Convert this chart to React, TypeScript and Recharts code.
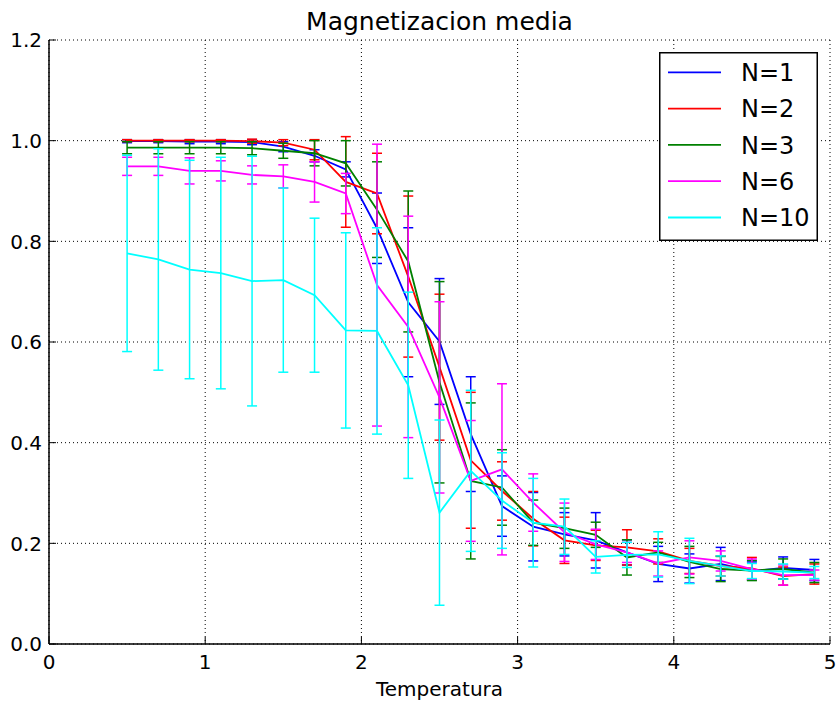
import React from 'react';
import { LineChart, Line, XAxis, YAxis, CartesianGrid, ErrorBar, Legend } from 'recharts';

const temperatures = [0.5, 0.7, 0.9, 1.1, 1.3, 1.5, 1.7, 1.9, 2.1, 2.3, 2.5, 2.7, 2.9, 3.1, 3.3, 3.5, 3.7, 3.9, 4.1, 4.3, 4.5, 4.7, 4.9];

const seriesNames = ['N=1', 'N=2', 'N=3', 'N=6', 'N=10'];
const seriesColors = ['#0000ff', '#ff0000', '#008000', '#ff00ff', '#00ffff'];

const magN1 = [0.999, 0.999, 0.998, 0.998, 0.997, 0.988, 0.970, 0.943, 0.826, 0.679, 0.601, 0.417, 0.274, 0.233, 0.218, 0.206, 0.182, 0.159, 0.150, 0.159, 0.145, 0.151, 0.147];
const errN1 = [0.003, 0.003, 0.004, 0.004, 0.005, 0.010, 0.012, 0.015, 0.070, 0.148, 0.125, 0.114, 0.060, 0.068, 0.043, 0.055, 0.025, 0.035, 0.029, 0.033, 0.018, 0.022, 0.021];

const magN2 = [1.0, 1.0, 1.0, 1.0, 0.999, 0.996, 0.982, 0.918, 0.895, 0.730, 0.550, 0.365, 0.304, 0.249, 0.206, 0.196, 0.192, 0.184, 0.165, 0.155, 0.150, 0.135, 0.139];
const errN2 = [0.002, 0.002, 0.002, 0.002, 0.004, 0.006, 0.020, 0.090, 0.080, 0.160, 0.145, 0.135, 0.058, 0.054, 0.046, 0.030, 0.035, 0.025, 0.025, 0.020, 0.022, 0.018, 0.020];

const magN3 = [0.986, 0.986, 0.986, 0.986, 0.985, 0.980, 0.975, 0.955, 0.863, 0.760, 0.520, 0.324, 0.311, 0.241, 0.230, 0.217, 0.172, 0.182, 0.163, 0.149, 0.146, 0.149, 0.142];
const errN3 = [0.012, 0.012, 0.012, 0.012, 0.013, 0.015, 0.025, 0.045, 0.095, 0.140, 0.200, 0.155, 0.075, 0.045, 0.040, 0.025, 0.035, 0.020, 0.031, 0.025, 0.020, 0.020, 0.020];

const magN6 = [0.949, 0.949, 0.940, 0.940, 0.932, 0.929, 0.918, 0.895, 0.713, 0.630, 0.490, 0.324, 0.347, 0.281, 0.222, 0.198, 0.182, 0.160, 0.172, 0.165, 0.149, 0.137, 0.137];
const errN6 = [0.018, 0.018, 0.026, 0.020, 0.018, 0.023, 0.040, 0.040, 0.280, 0.220, 0.190, 0.120, 0.170, 0.057, 0.058, 0.030, 0.020, 0.025, 0.033, 0.020, 0.020, 0.020, 0.010];

const magN10 = [0.776, 0.764, 0.744, 0.737, 0.721, 0.723, 0.693, 0.623, 0.622, 0.514, 0.261, 0.344, 0.285, 0.241, 0.233, 0.173, 0.177, 0.178, 0.165, 0.155, 0.145, 0.144, 0.142];
const errN10 = [0.195, 0.220, 0.217, 0.230, 0.248, 0.183, 0.153, 0.194, 0.205, 0.185, 0.184, 0.160, 0.095, 0.088, 0.055, 0.032, 0.025, 0.045, 0.045, 0.020, 0.015, 0.015, 0.012];

const xTicks = [0, 1, 2, 3, 4, 5];
const yTicks = [0, 0.2, 0.4, 0.6, 0.8, 1.0, 1.2];

const titleText = 'Magnetizacion media';
const xLabelText = 'Temperatura';

const means = [magN1, magN2, magN3, magN6, magN10];
const errs = [errN1, errN2, errN3, errN6, errN10];

const data = temperatures.map((t, i) => {
  const row: any = { t };
  means.forEach((m, k) => {
    row['m' + k] = m[i];
    row['e' + k] = errs[k][i];
  });
  return row;
});

const FONT = '"DejaVu Sans", sans-serif';
const TICK_LEN = 7;
const X_MARGIN = 11;
const Y_MARGIN = 7;

const BottomTick = (props: any) => {
  const { x, y, payload } = props;
  const axisY = y - X_MARGIN;
  return (
    <g>
      <line x1={x} y1={axisY} x2={x} y2={axisY - TICK_LEN} stroke="#000" strokeWidth={1} />
      <text x={x} y={y} dy="0.72em" textAnchor="middle" fontSize={20} fontFamily={FONT} fill="#000">
        {payload.value}
      </text>
    </g>
  );
};

const TopTick = (props: any) => {
  const { x, y } = props;
  return <line x1={x} y1={y} x2={x} y2={y + TICK_LEN} stroke="#000" strokeWidth={1} />;
};

const LeftTick = (props: any) => {
  const { x, y, payload } = props;
  const axisX = x + Y_MARGIN;
  return (
    <g>
      <line x1={axisX} y1={y} x2={axisX + TICK_LEN} y2={y} stroke="#000" strokeWidth={1} />
      <text x={x} y={y} dy="0.36em" textAnchor="end" fontSize={20} fontFamily={FONT} fill="#000">
        {Number(payload.value).toFixed(1)}
      </text>
    </g>
  );
};

const RightTick = (props: any) => {
  const { x, y } = props;
  return <line x1={x} y1={y} x2={x - TICK_LEN} y2={y} stroke="#000" strokeWidth={1} />;
};

const LegendBox = () => (
  <svg width={159} height={189} style={{ display: 'block' }}>
    <rect x={0.75} y={0.75} width={157.5} height={187.5} fill="#fff" stroke="#000" strokeWidth={1.5} />
    {seriesNames.map((name, k) => {
      const cy = 20.3 + k * 36.3;
      return (
        <g key={name}>
          <line x1={9} y1={cy} x2={62} y2={cy} stroke={seriesColors[k]} strokeWidth={1.8} />
          <text x={82} y={cy} dy="0.36em" fontSize={24} fontFamily={FONT} fill="#000">
            {name}
          </text>
        </g>
      );
    })}
  </svg>
);

export default function App() {
  return (
    <div style={{ position: 'absolute', left: 0, top: 0, width: 839, height: 703, background: '#fff' }}>
      <div
        style={{
          position: 'absolute',
          left: 49,
          width: 781,
          top: 9,
          textAlign: 'center',
          fontFamily: FONT,
          fontSize: 25,
          lineHeight: '26px',
          color: '#000',
        }}
      >
        {titleText}
      </div>
      <LineChart width={839} height={703} data={data} margin={{ top: 40, right: 9, bottom: 29, left: 9 }}>
        <CartesianGrid stroke="#000" strokeDasharray="1 3" strokeWidth={1} xAxisId={0} yAxisId={0} />
        <XAxis
          dataKey="t"
          type="number"
          domain={[0, 5]}
          ticks={xTicks}
          interval={0}
          height={30}
          tickSize={0}
          tickMargin={X_MARGIN}
          tickLine={false}
          tick={<BottomTick />}
          axisLine={{ stroke: '#000', strokeWidth: 1.5 }}
          label={{ value: xLabelText, position: 'bottom', offset: 8, fontSize: 20, fill: '#000', fontFamily: FONT }}
        />
        <XAxis
          xAxisId="top"
          orientation="top"
          type="number"
          domain={[0, 5]}
          ticks={xTicks}
          interval={0}
          height={0}
          tickSize={0}
          tickMargin={0}
          tickLine={false}
          tick={<TopTick />}
          axisLine={{ stroke: '#000', strokeWidth: 1.5 }}
        />
        <YAxis
          type="number"
          domain={[0, 1.2]}
          ticks={yTicks}
          interval={0}
          width={40}
          tickSize={0}
          tickMargin={Y_MARGIN}
          tickLine={false}
          tick={<LeftTick />}
          axisLine={{ stroke: '#000', strokeWidth: 1.5 }}
        />
        <YAxis
          yAxisId="right"
          orientation="right"
          type="number"
          domain={[0, 1.2]}
          ticks={yTicks}
          interval={0}
          width={0}
          tickSize={0}
          tickMargin={0}
          tickLine={false}
          tick={<RightTick />}
          axisLine={{ stroke: '#000', strokeWidth: 1.5 }}
        />
        {seriesNames.map((name, k) => (
          <Line
            key={name}
            name={name}
            dataKey={'m' + k}
            type="linear"
            stroke={seriesColors[k]}
            strokeWidth={1.8}
            dot={false}
            activeDot={false}
            isAnimationActive={false}
          >
            <ErrorBar dataKey={'e' + k} direction="y" width={5} stroke={seriesColors[k]} strokeWidth={1.5} isAnimationActive={false} />
          </Line>
        ))}
        <Legend
          layout="horizontal"
          verticalAlign="middle"
          align="center"
          content={<LegendBox />}
          wrapperStyle={{ left: 659, top: 52, width: 159, height: 189 }}
        />
      </LineChart>
    </div>
  );
}
